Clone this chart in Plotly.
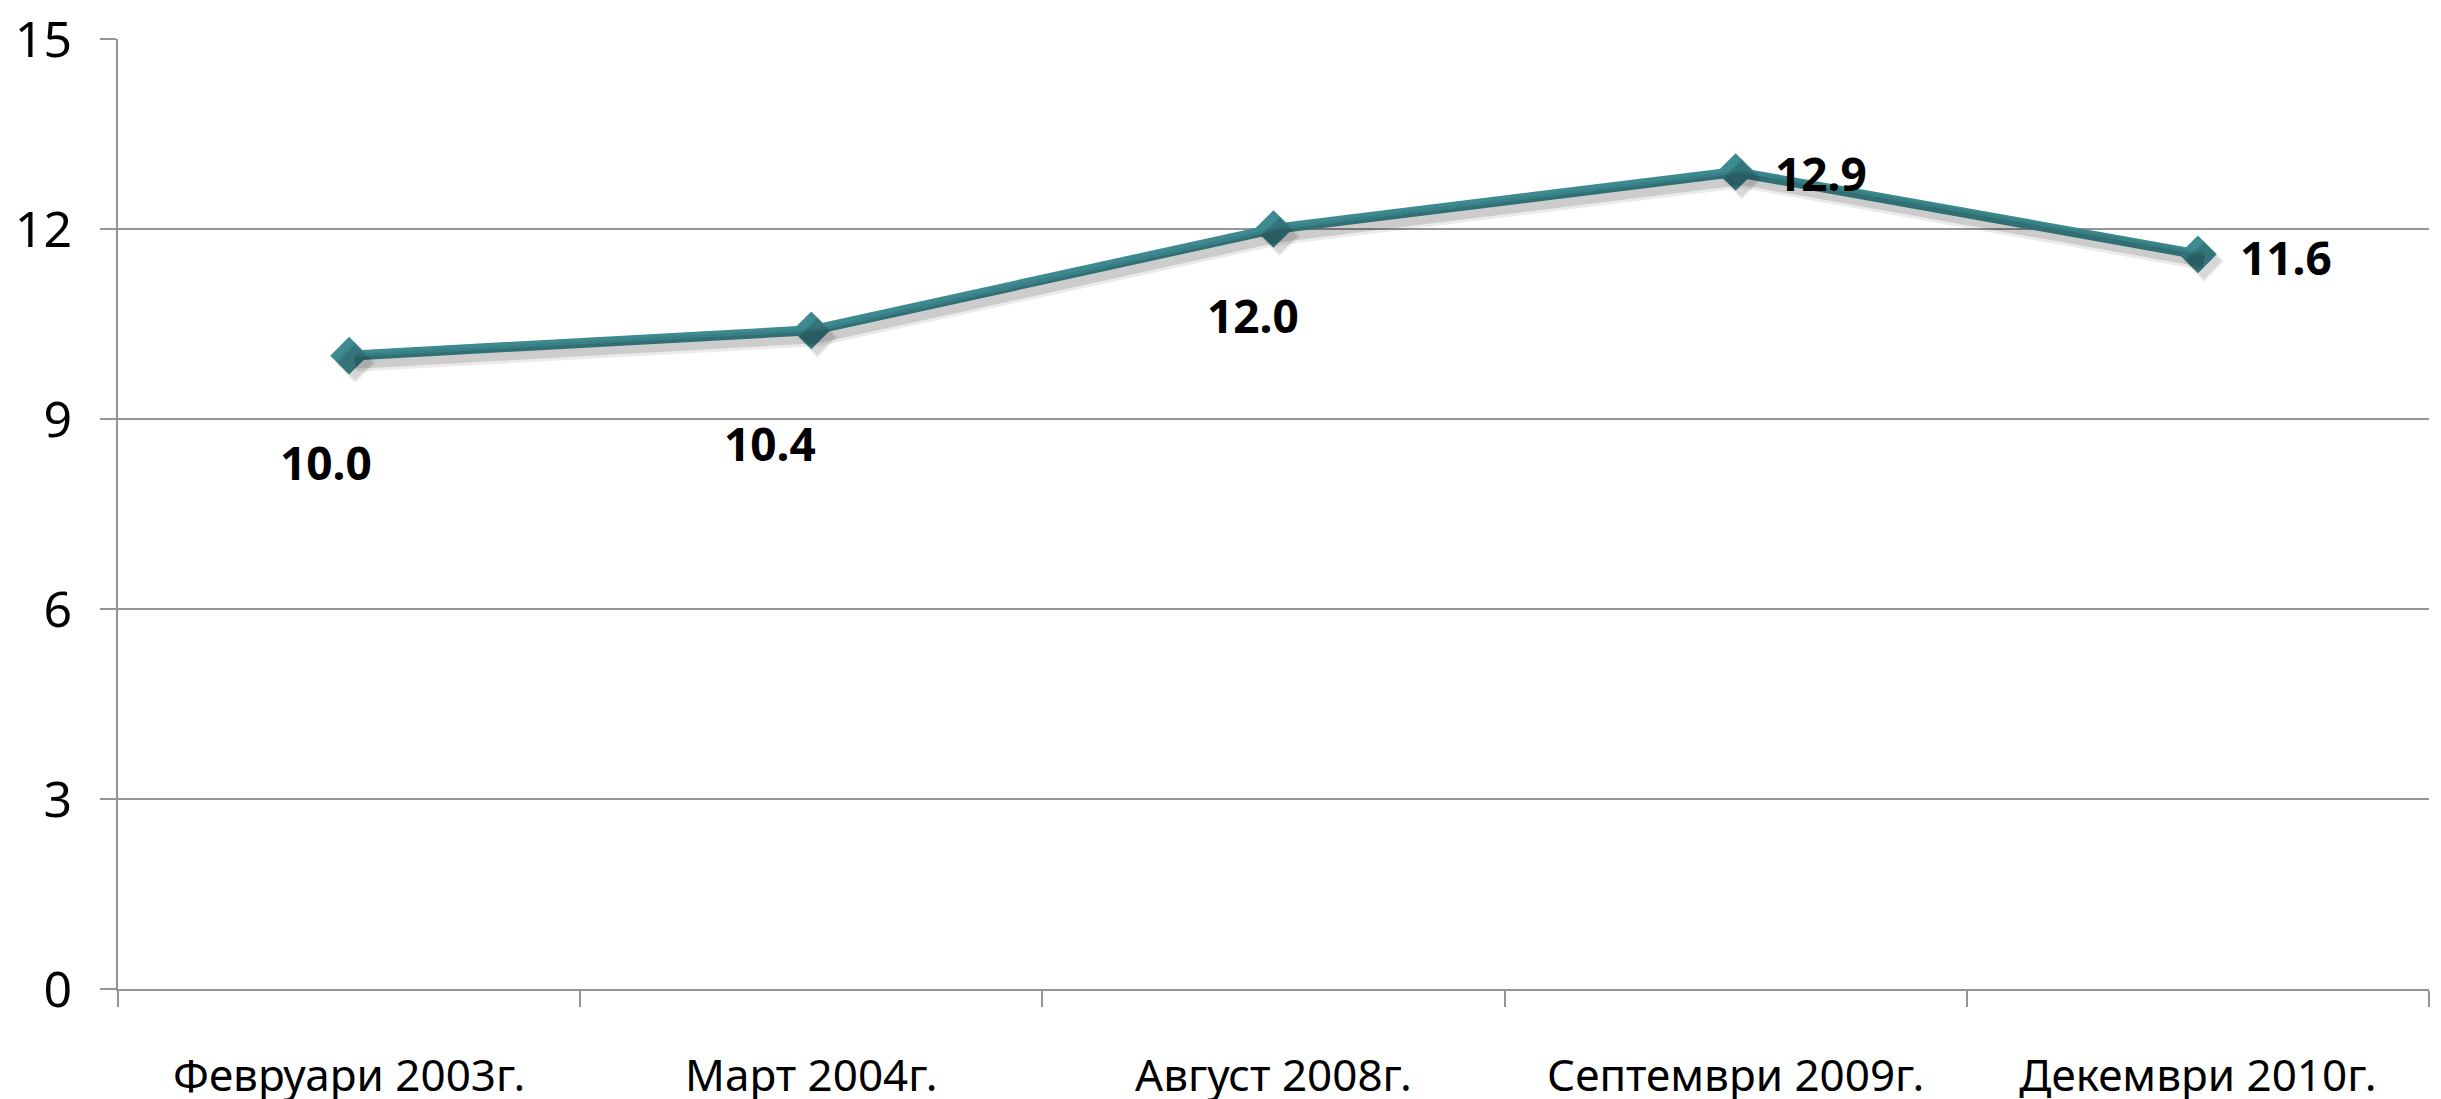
import plotly.graph_objects as go

categories = ["Февруари 2003г.", "Март 2004г.", "Август 2008г.", "Септември 2009г.", "Декември 2010г."]
values = [10.0, 10.4, 12.0, 12.9, 11.6]
y_ticks = [0, 3, 6, 9, 12, 15]
# label pixel offsets (style only)
label_dx = [-23, -41, -21, 85, 88]
label_dy = [-106, -113, -86, -1, -3]

LINE = "#3D8B91"
GRID = "#959595"
FONT = "Noto Sans"

fig = go.Figure()

# soft shadow on offset hidden axes
fig.add_trace(go.Scatter(
    x=categories, y=values, mode="lines+markers",
    line=dict(color="rgba(0,0,0,0.08)", width=18),
    marker=dict(symbol="diamond", size=32, color="rgba(0,0,0,0.06)"),
    xaxis="x2", yaxis="y2", hoverinfo="skip", showlegend=False))
fig.add_trace(go.Scatter(
    x=categories, y=values, mode="lines+markers",
    line=dict(color="rgba(0,0,0,0.13)", width=12),
    marker=dict(symbol="diamond", size=28, color="rgba(0,0,0,0.10)"),
    xaxis="x2", yaxis="y2", hoverinfo="skip", showlegend=False))

fig.add_trace(go.Scatter(
    x=categories, y=values, mode="lines+markers",
    line=dict(color=LINE, width=10),
    marker=dict(symbol="diamond", size=29, color=LINE, line=dict(width=0)),
    showlegend=False))

for c, v, dx, dy in zip(categories, values, label_dx, label_dy):
    fig.add_annotation(x=c, y=v, text=f"{v:.1f}", showarrow=False,
                       xshift=dx, yshift=dy,
                       font=dict(family=FONT, size=46, color="#000000", weight="bold"))

shift_x = 6 / 462.0
shift_y = 7 * 15 / 950.0

fig.update_layout(
    width=2433, height=1091,
    margin=dict(l=110, r=12, t=31, b=110),
    paper_bgcolor="white", plot_bgcolor="white",
    font=dict(family=FONT, color="#000000"),
    xaxis=dict(type="category", range=[-0.5, 4.5], tickson="boundaries",
               ticks="outside", ticklen=16, tickwidth=2, tickcolor=GRID,
               showline=True, linecolor=GRID, linewidth=2, showgrid=False,
               tickfont=dict(family=FONT, size=44, color="#000000"),
               ticklabelstandoff=47, zeroline=False, automargin=False,
               ticklabeloverflow="allow"),
    yaxis=dict(range=[0, 15], tickvals=y_ticks, ticks="outside", ticklen=16,
               tickwidth=2, tickcolor=GRID, showline=True, linecolor=GRID,
               linewidth=2, showgrid=True, gridcolor=GRID, gridwidth=2,
               tickfont=dict(family=FONT, size=50, color="#000000"),
               ticklabelstandoff=18, zeroline=False, automargin=False,
               ticklabeloverflow="allow"),
    xaxis2=dict(type="category", range=[-0.5 - shift_x, 4.5 - shift_x], overlaying="x",
                visible=False, showgrid=False),
    yaxis2=dict(range=[shift_y, 15 + shift_y], overlaying="y", visible=False, showgrid=False),
)

fig.write_html("out.html")
